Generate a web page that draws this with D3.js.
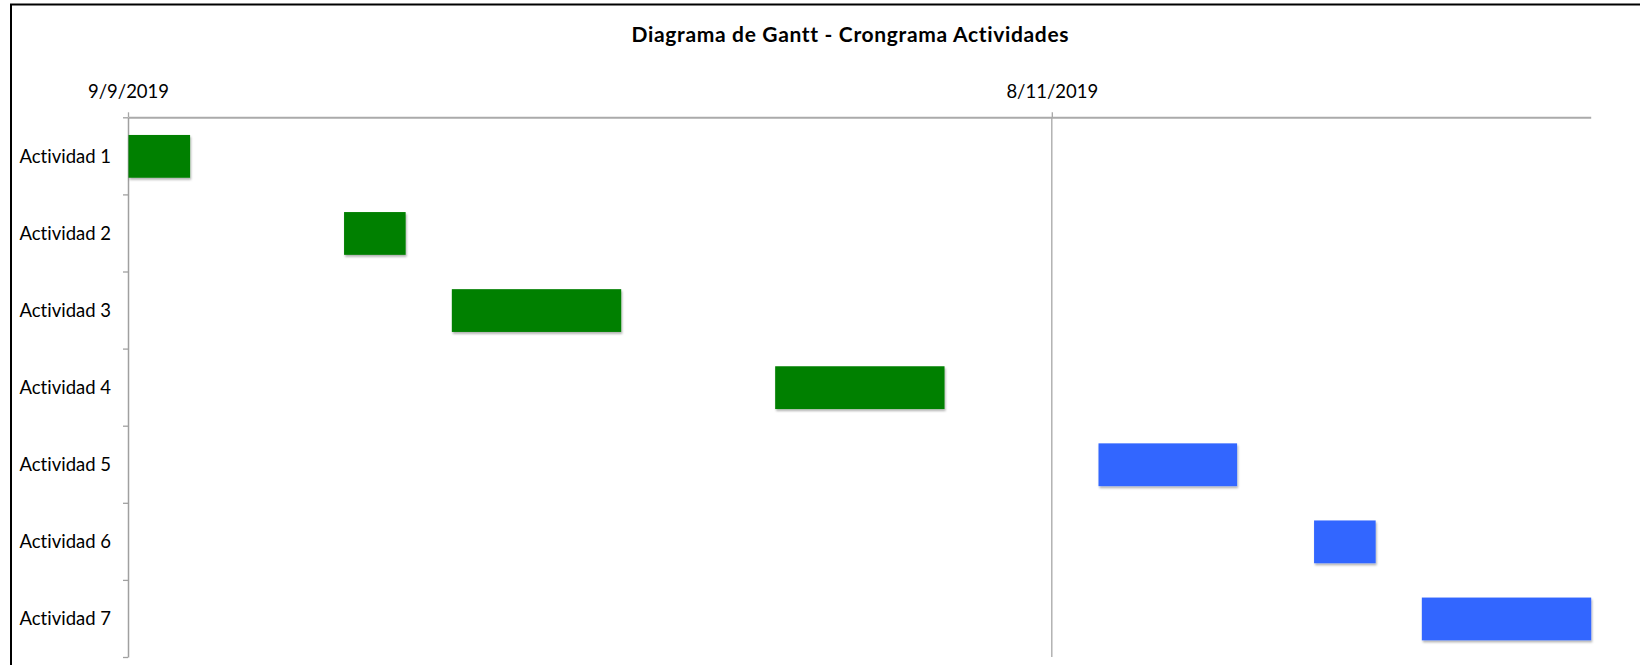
<!DOCTYPE html>
<html>
<head>
<meta charset="utf-8">
<script src="https://cdn.jsdelivr.net/npm/d3@7"></script>
<style>
  html, body { margin: 0; padding: 0; background: #fff; }
  svg { display: block; }
  text { font-variant-ligatures: none; font-feature-settings: "liga" 0; }
</style>
</head>
<body>
<svg id="chart" width="1640" height="665"></svg>
<script>
// ---- Data ----
const title = "Diagrama de Gantt - Crongrama Actividades";
const categories = ["Actividad 1", "Actividad 2", "Actividad 3", "Actividad 4", "Actividad 5", "Actividad 6", "Actividad 7"];
const startDates = ["2019-09-09", "2019-09-23", "2019-09-30", "2019-10-21", "2019-11-11", "2019-11-25", "2019-12-02"];
const endDates   = ["2019-09-13", "2019-09-27", "2019-10-11", "2019-11-01", "2019-11-20", "2019-11-29", "2019-12-13"];
const phases     = ["Fase 1", "Fase 1", "Fase 1", "Fase 1", "Fase 2", "Fase 2", "Fase 2"];
const axisDomain = ["2019-09-09", "2019-12-13"];
const tickDates  = ["2019-09-09", "2019-11-08"];
const tickLabels = ["9/9/2019", "8/11/2019"];

(function () {
// ---- Setup ----
const parse = d3.utcParse("%Y-%m-%d");
const svg = d3.select("#chart");
const W = 1640, H = 665;
const mLeft = 128, mRight = 1590.7, mTop = 117.3, mBottom = 657;
const FONT = "Lato, 'Open Sans', sans-serif";

svg.append("rect").attr("width", W).attr("height", H).attr("fill", "#fff");

// frame (visible top and left edges)
svg.append("path")
  .attr("d", `M11,${H} L11,4.6 L${W},4.6`)
  .attr("fill", "none").attr("stroke", "#000").attr("stroke-width", 2);

const x = d3.scaleUtc().domain(axisDomain.map(parse)).range([mLeft, mRight]);
const y = d3.scaleBand().domain(categories).range([mTop, mBottom]).padding(0);
const yIdx = d3.scaleLinear().domain([0, categories.length]).range([mTop, mBottom]);
const color = d3.scaleOrdinal().domain(["Fase 1", "Fase 2"]).range(["#008000", "#3366FF"]);

// drop shadow
const defs = svg.append("defs");
const f = defs.append("filter").attr("id", "shadow")
  .attr("x", "-10%").attr("y", "-10%").attr("width", "130%").attr("height", "140%");
f.append("feDropShadow").attr("dx", 1).attr("dy", 2).attr("stdDeviation", 1.2)
  .attr("flood-color", "#000").attr("flood-opacity", 0.3);

// title
svg.append("text")
  .attr("x", 850).attr("y", 42)
  .attr("text-anchor", "middle")
  .attr("font-family", FONT).attr("font-weight", "bold").attr("font-size", 21)
  .attr("textLength", 437).attr("lengthAdjust", "spacing")
  .attr("fill", "#000")
  .text(title);

// vertical gridlines
svg.append("g").selectAll("line")
  .data(tickDates.slice(1))
  .join("line")
  .attr("x1", d => x(parse(d))).attr("x2", d => x(parse(d)))
  .attr("y1", mTop).attr("y2", mBottom)
  .attr("stroke", "#a6a6a6").attr("stroke-width", 1.3);

// top axis
const xAxis = d3.axisTop(x)
  .tickValues(tickDates.map(parse))
  .tickFormat((d, i) => tickLabels[i])
  .tickSizeInner(5).tickSizeOuter(0).tickPadding(14);
const gx = svg.append("g").attr("transform", `translate(0,${mTop})`).call(xAxis);
gx.select(".domain").attr("stroke", "#aaaaaa").attr("stroke-width", 2);
gx.selectAll(".tick line").attr("stroke", "#a6a6a6").attr("stroke-width", 1.3);
gx.selectAll(".tick text")
  .attr("font-family", FONT).attr("font-size", 18.5).attr("fill", "#000");

// left axis (ticks at category boundaries)
const yAxis = d3.axisLeft(yIdx)
  .tickValues(d3.range(categories.length + 1))
  .tickFormat("").tickSizeInner(5).tickSizeOuter(0);
const gy = svg.append("g").attr("transform", `translate(${mLeft},0)`).call(yAxis);
gy.select(".domain").attr("stroke", "#a0a0a0").attr("stroke-width", 1.5);
gy.selectAll(".tick line").attr("stroke", "#a0a0a0").attr("stroke-width", 1.3);

// category labels
svg.append("g").selectAll("text")
  .data(categories)
  .join("text")
  .attr("x", 19.5)
  .attr("y", d => y(d) + y.bandwidth() / 2 + 7)
  .attr("font-family", FONT).attr("font-size", 18.5).attr("fill", "#000")
  .text(d => d);

// bars
const barH = y.bandwidth() * 0.555;
svg.append("g").selectAll("rect")
  .data(categories.map((c, i) => ({ c, s: parse(startDates[i]), e: parse(endDates[i]), p: phases[i] })))
  .join("rect")
  .attr("x", d => x(d.s) + 0.5)
  .attr("y", d => y(d.c) + (y.bandwidth() - barH) / 2 + 0.5)
  .attr("width", d => x(d.e) - x(d.s))
  .attr("height", barH)
  .attr("fill", d => color(d.p))
  .attr("filter", "url(#shadow)");
})();
</script>
</body>
</html>
